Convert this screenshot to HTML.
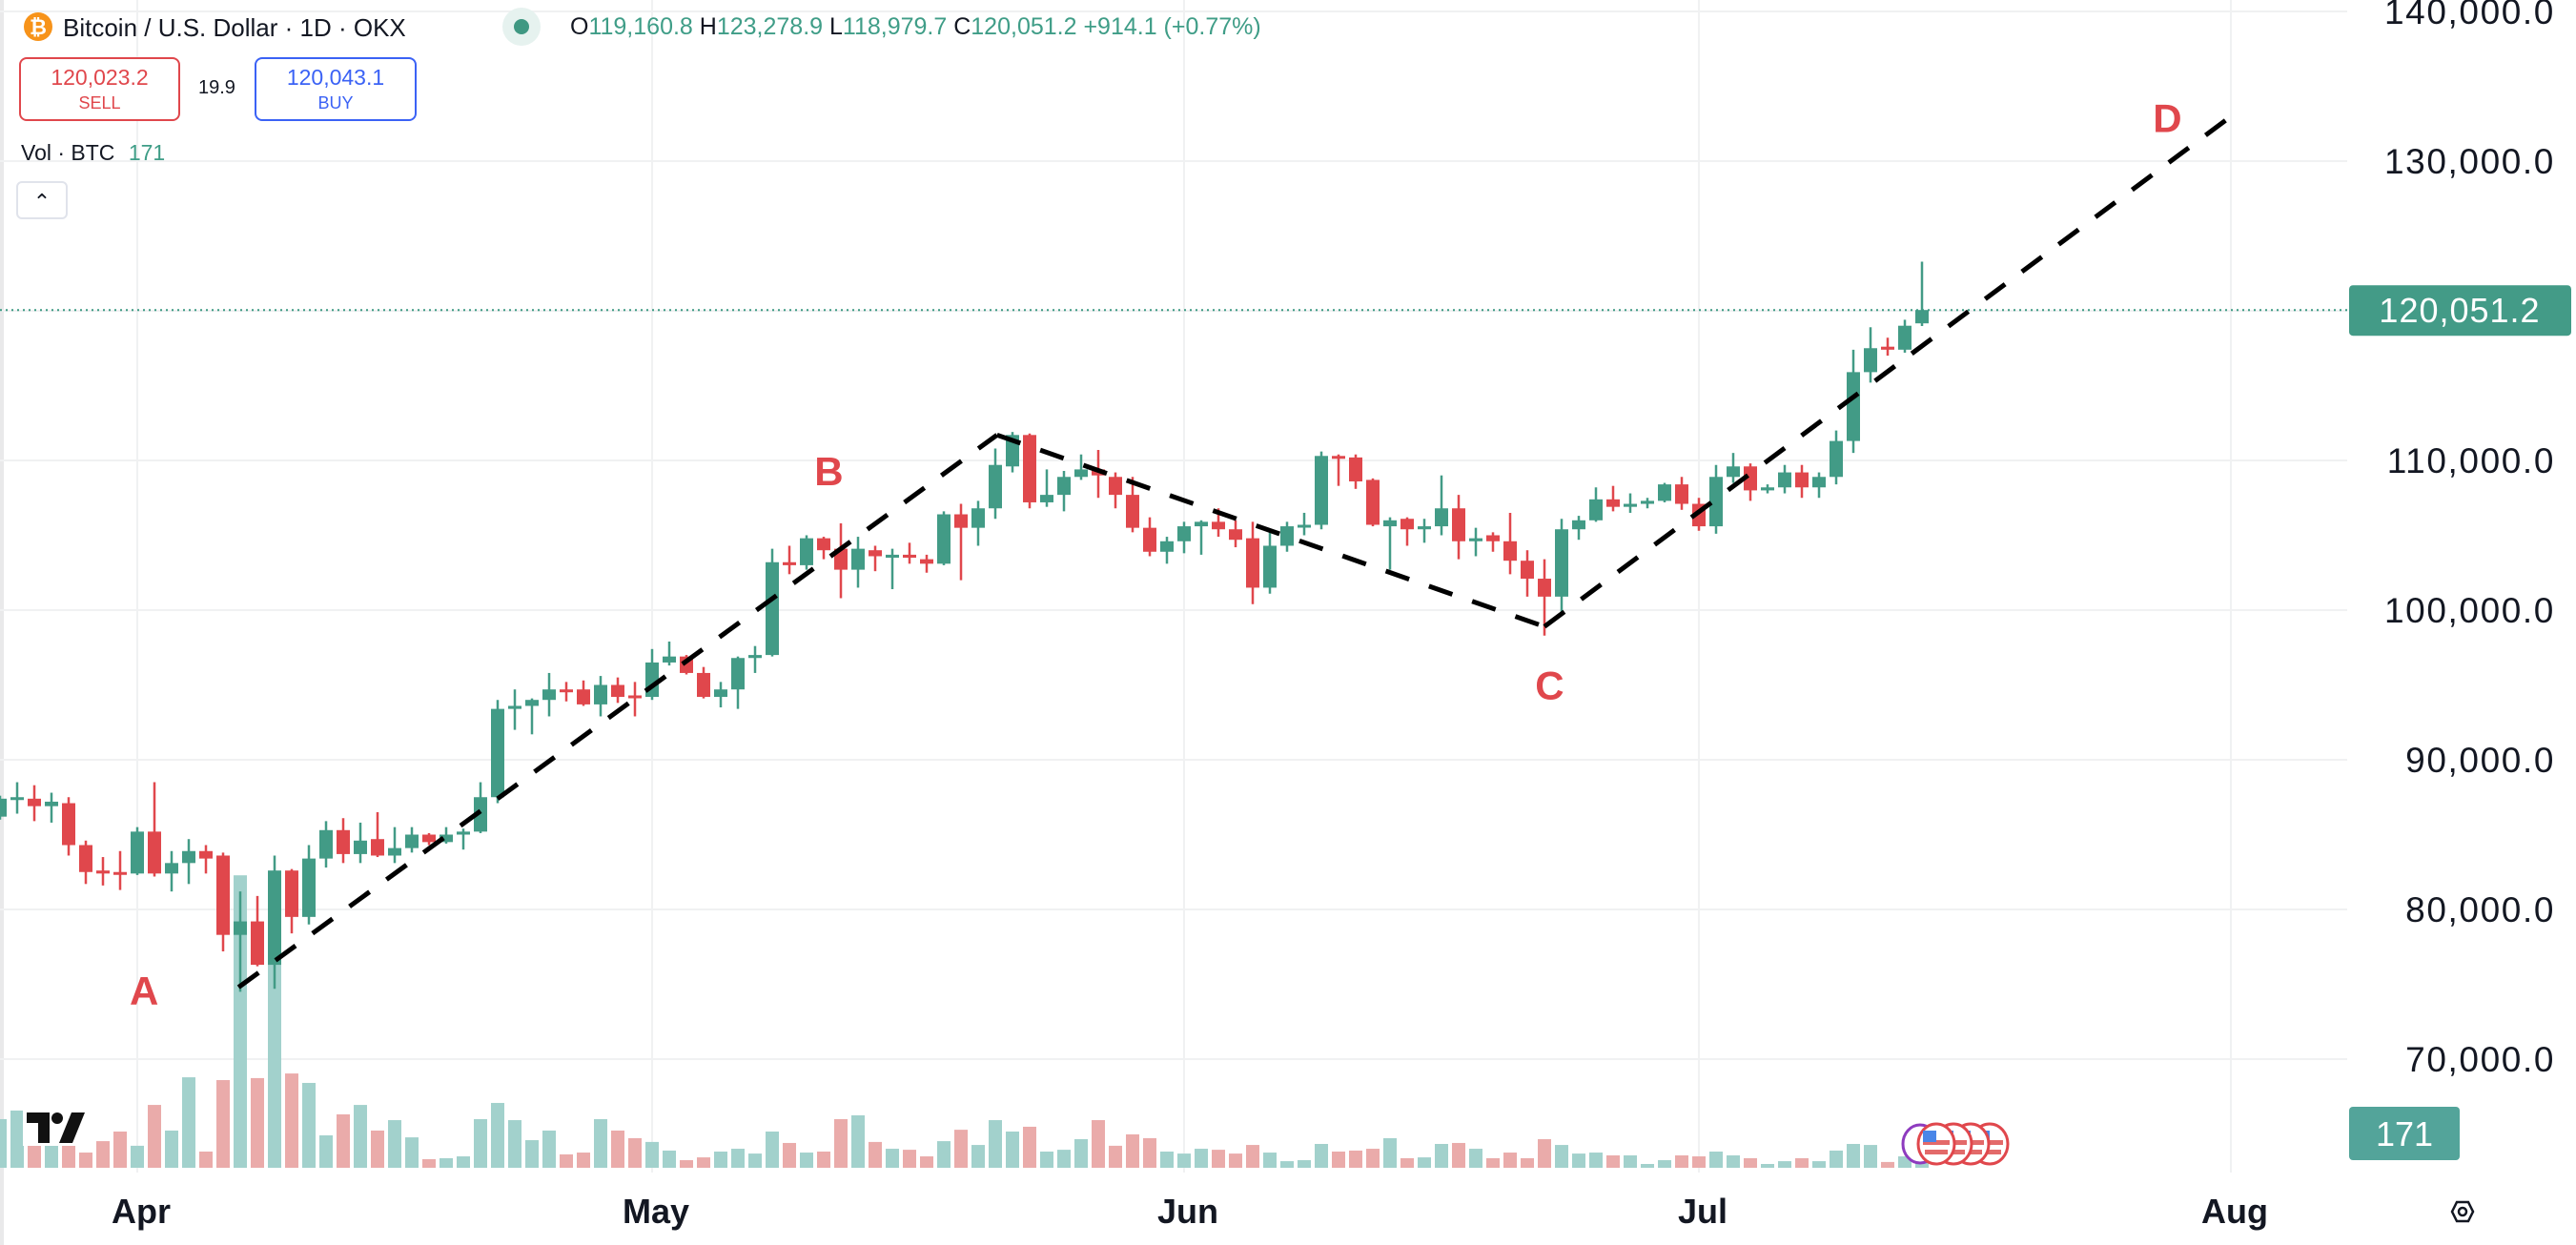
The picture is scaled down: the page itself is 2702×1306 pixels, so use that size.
<!DOCTYPE html>
<html><head><meta charset="utf-8">
<style>
html,body{margin:0;padding:0;background:#fff;}
body{width:2702px;height:1306px;position:relative;overflow:hidden;font-family:"Liberation Sans",sans-serif;}
#chart{position:absolute;left:0;top:0;}
.hdr{position:absolute;white-space:nowrap;color:#131722;}
.box{position:absolute;border:2px solid;border-radius:8px;text-align:center;box-sizing:border-box;background:#fff;}
</style></head>
<body>
<svg id="chart" width="2702" height="1306" xmlns="http://www.w3.org/2000/svg">
  <rect x="0" y="0" width="4" height="1306" fill="#e9e9ea"/>
  <g id="grid"></g>
  <g id="vol"></g>
  <g id="candles"></g>
  <g id="pattern"></g>
  <g id="axes"></g>
</svg>

<div class="hdr" style="left:24px;top:12px;height:34px;">
  <svg width="32" height="32" style="position:absolute;left:0;top:0"><circle cx="16" cy="16" r="15" fill="#f7931a"/><text x="16" y="24" font-size="22" font-weight="bold" fill="#fff" text-anchor="middle" font-family="DejaVu Sans, sans-serif">₿</text></svg>
  <span style="position:absolute;left:42px;top:2px;font-size:26px;">Bitcoin / U.S. Dollar · 1D · OKX</span>
</div>
<svg width="44" height="44" style="position:absolute;left:525px;top:6px"><circle cx="22" cy="22" r="20" fill="#e6f2ef"/><circle cx="22" cy="22" r="8" fill="#3f9882"/></svg>
<div class="hdr" style="left:598px;top:14px;font-size:25px;color:#3f9d87;">
  <span style="color:#131722">O</span>119,160.8 <span style="color:#131722">H</span>123,278.9 <span style="color:#131722">L</span>118,979.7 <span style="color:#131722">C</span>120,051.2 +914.1 (+0.77%)
</div>
<div class="box" style="left:20px;top:60px;width:169px;height:67px;border-color:#e0474c;">
  <div style="color:#e0474c;font-size:23px;margin-top:6px;">120,023.2</div>
  <div style="color:#e0474c;font-size:18px;margin-top:3px;">SELL</div>
</div>
<div class="hdr" style="left:208px;top:81px;font-size:20px;">19.9</div>
<div class="box" style="left:267px;top:60px;width:170px;height:67px;border-color:#3b62f5;">
  <div style="color:#3b62f5;font-size:23px;margin-top:6px;">120,043.1</div>
  <div style="color:#3b62f5;font-size:18px;margin-top:3px;">BUY</div>
</div>
<div class="hdr" style="left:22px;top:147px;font-size:23px;">Vol · BTC <span style="color:#3f9d87;margin-left:8px">171</span></div>
<div style="position:absolute;left:17px;top:190px;width:54px;height:40px;border:2px solid #e0e3eb;border-radius:6px;box-sizing:border-box;background:#fff;text-align:center;font-size:22px;line-height:40px;color:#131722;">&#8963;</div>

<script>
// ---- data ----
const dates = ["03-24","03-25","03-26","03-27","03-28","03-29","03-30","03-31",
"04-01","04-02","04-03","04-04","04-05","04-06","04-07","04-08","04-09","04-10","04-11","04-12","04-13","04-14","04-15","04-16","04-17","04-18","04-19","04-20","04-21","04-22","04-23","04-24","04-25","04-26","04-27","04-28","04-29","04-30",
"05-01","05-02","05-03","05-04","05-05","05-06","05-07","05-08","05-09","05-10","05-11","05-12","05-13","05-14","05-15","05-16","05-17","05-18","05-19","05-20","05-21","05-22","05-23","05-24","05-25","05-26","05-27","05-28","05-29","05-30","05-31",
"06-01","06-02","06-03","06-04","06-05","06-06","06-07","06-08","06-09","06-10","06-11","06-12","06-13","06-14","06-15","06-16","06-17","06-18","06-19","06-20","06-21","06-22","06-23","06-24","06-25","06-26","06-27","06-28","06-29","06-30",
"07-01","07-02","07-03","07-04","07-05","07-06","07-07","07-08","07-09","07-10","07-11","07-12","07-13","07-14"];
const openP = [86.2,87.4,87.4,86.9,87.1,84.3,82.6,82.5,
82.4,85.2,82.4,83.1,83.9,83.6,78.3,79.2,76.3,82.6,79.5,83.4,85.3,83.7,84.7,83.6,84.1,85.0,84.5,85.0,85.2,87.5,93.4,93.6,94.0,94.7,94.7,93.7,95.0,94.3,
94.2,96.5,96.9,95.8,94.2,94.7,96.8,97.0,103.2,103.0,104.8,104.1,102.7,104.0,103.5,103.7,103.4,103.1,106.4,105.5,106.8,109.6,111.7,107.2,107.7,108.9,109.4,108.9,107.7,105.5,103.9,
104.6,105.6,105.9,105.4,104.8,101.5,104.3,105.6,105.7,110.3,110.2,108.7,105.6,106.1,105.4,105.6,106.8,104.6,105.0,104.6,103.3,102.1,100.9,105.4,106.0,107.4,106.9,107.1,107.3,108.4,
107.1,105.6,108.9,109.6,108.0,108.2,109.2,108.2,108.9,111.3,115.9,117.6,117.4,119.16];
const highP = [87.6,88.5,88.3,87.8,87.5,84.6,83.5,83.9,
85.5,88.5,83.9,84.7,84.3,83.8,81.2,80.9,83.6,82.7,84.3,85.9,86.1,85.8,86.5,85.5,85.5,85.1,85.5,85.4,88.5,94.0,94.7,94.1,95.8,95.2,95.3,95.6,95.5,95.2,
97.4,97.9,97.0,96.2,95.2,96.9,97.6,104.1,104.3,105.0,104.9,105.8,104.9,104.3,104.1,104.5,103.7,106.6,107.1,107.3,110.8,111.9,111.8,109.4,109.3,110.4,110.7,109.2,108.9,106.2,104.9,
105.9,106.0,106.8,106.0,105.9,105.3,105.9,106.5,110.6,110.4,110.4,108.8,106.2,106.2,106.1,109.0,107.7,105.5,105.2,106.5,104.0,103.4,106.1,106.3,108.2,108.3,107.8,107.5,108.5,108.9,
107.5,109.7,110.5,109.8,108.4,109.7,109.7,109.2,112.0,117.4,118.9,118.2,119.4,123.28];
const lowP = [86.0,86.4,85.9,85.8,83.6,81.7,81.6,81.3,
82.3,82.2,81.2,81.7,82.4,77.2,74.5,76.2,74.7,78.4,79.0,82.8,83.1,83.1,83.5,83.1,83.8,84.3,84.4,84.0,85.1,87.1,92.0,91.7,92.9,93.9,93.6,92.9,93.8,92.9,
94.0,96.3,95.7,94.1,93.5,93.4,95.8,96.9,102.4,102.7,103.4,100.8,101.5,102.6,101.4,103.1,102.5,103.0,102.0,104.3,106.1,109.2,106.8,106.9,106.6,108.7,107.5,106.8,105.2,103.6,103.1,
103.8,103.7,104.9,104.2,100.4,101.1,103.9,105.0,105.4,108.3,108.1,105.6,102.7,104.3,104.5,105.0,103.4,103.6,103.9,102.4,100.9,98.3,99.7,104.7,105.9,106.6,106.5,106.8,107.2,106.7,
105.3,105.1,108.5,107.3,107.8,107.8,107.5,107.5,108.4,110.5,115.2,117.0,117.2,118.98];
const closeP = [87.4,87.5,86.9,87.2,84.3,82.5,82.4,82.4,
85.2,82.4,83.1,83.9,83.4,78.3,79.2,76.3,82.6,79.5,83.4,85.3,83.7,84.6,83.6,84.1,85.0,84.5,85.0,85.2,87.5,93.4,93.6,94.0,94.7,94.6,93.7,95.0,94.2,94.2,
96.5,96.9,95.8,94.2,94.7,96.8,97.0,103.2,103.0,104.8,104.0,102.7,104.1,103.6,103.7,103.5,103.1,106.4,105.5,106.8,109.7,111.7,107.2,107.7,108.9,109.4,109.0,107.7,105.5,103.9,104.6,
105.6,105.9,105.4,104.7,101.5,104.3,105.6,105.7,110.3,110.2,108.6,105.7,106.0,105.4,105.6,106.8,104.6,104.8,104.6,103.3,102.1,100.9,105.4,106.0,107.4,106.9,107.1,107.3,108.4,107.1,
105.6,108.9,109.6,108.0,108.2,109.2,108.2,108.9,111.3,115.9,117.5,117.4,119.0,120.05];
const volume = [243,286,195,110,110,76,133,181,
110,314,186,452,81,438,1461,448,1180,471,424,162,267,314,186,238,152,43,48,57,243,324,238,138,186,67,76,243,186,148,
129,86,38,52,81,95,71,181,124,76,81,243,262,129,95,90,57,133,190,114,238,181,205,81,90,143,238,110,167,148,81,
71,95,90,71,114,76,33,38,119,81,86,95,148,48,52,119,124,95,48,76,48,143,114,71,76,62,62,19,38,62,
57,81,62,48,19,33,48,33,86,119,114,29,57,171];
const priceTicks = [140,130,120,110,100,90,80,70];
const priceTickLabels = ["140,000.0","130,000.0","120,000.0","110,000.0","100,000.0","90,000.0","80,000.0","70,000.0"];
const monthLabels = ["Apr","May","Jun","Jul","Aug"];
const monthIdx = [8,38,69,99,130];
const patternIdx = [13.9,58.1,90,129.9];
const patternPrice = [74.8,111.7,98.9,132.9];
const patternLabels = ["A","B","C","D"];
const labelIdx = [8.4,48.3,90.3,126.3];
const labelPrice = [74.6,109.3,95.0,132.9];
const lastPrice = 120.0512;
const lastPriceLabel = "120,051.2";
const lastVolLabel = "171";

// ---- scales ----
const NS = "http://www.w3.org/2000/svg";
const PLOT_R = 2462;
function xS(i){ return i*18; }
function yS(p){ return 640 - (p-100)*15.7; }
function vS(v){ return v*0.21; }
const VOL_BASE = 1225;
const UP = "#429b86", DN = "#e0474c", UPV = "#a2d1cc", DNV = "#eaabaa";
function mk(tag, attrs, parent){ const e=document.createElementNS(NS,tag); for(const k in attrs) e.setAttribute(k,attrs[k]); parent.appendChild(e); return e; }

const grid = document.getElementById('grid');
priceTicks.forEach((p,k)=>{
  const l = mk('line',{x1:0,x2:PLOT_R,y1:yS(p),y2:yS(p),stroke:'#f0f1f2','stroke-width':2},grid);
  
  
});
monthIdx.forEach(i=>{
  const l = mk('line',{x1:xS(i),x2:xS(i),y1:0,y2:1230,stroke:'#f0f1f2','stroke-width':2},grid);
  
  
});

const volG = document.getElementById('vol');
volume.forEach((v,i)=>{
  const h = vS(v);
  const r = mk('rect',{x:xS(i)-7,y:VOL_BASE-h,width:14,height:h,fill: closeP[i]>=openP[i]?UPV:DNV},volG);
  
  
});

const cg = document.getElementById('candles');
openP.forEach((o,i)=>{
  const c = closeP[i], col = c>=o?UP:DN, x = xS(i);
  const g = mk('g',{},cg);
  
  
  mk('line',{x1:x,x2:x,y1:yS(highP[i]),y2:yS(lowP[i]),stroke:col,'stroke-width':2.5},g);
  const top = yS(Math.max(o,c)), bot = yS(Math.min(o,c));
  mk('rect',{x:x-7,y:top,width:14,height:Math.max(bot-top,3),fill:col},g);
});

const lp = mk('line',{x1:0,x2:PLOT_R,y1:yS(lastPrice),y2:yS(lastPrice),stroke:'#3d9a84','stroke-width':2,'stroke-dasharray':'2 4'},cg);



const pg = document.getElementById('pattern');
for(let k=0;k<patternIdx.length-1;k++){
  const l = mk('line',{x1:xS(patternIdx[k]),y1:yS(patternPrice[k]),x2:xS(patternIdx[k+1]),y2:yS(patternPrice[k+1]),stroke:'#000','stroke-width':5,'stroke-dasharray':'26 22'},pg);
  
  
}
patternLabels.forEach((t,k)=>{
  const tx = mk('text',{x:xS(labelIdx[k]),y:yS(labelPrice[k])+15,'font-size':42,'font-weight':'bold',fill:'#e0474c','text-anchor':'middle','font-family':'Liberation Sans, sans-serif'},pg);
  tx.textContent = t;
  
  
});

const ax = document.getElementById('axes');
priceTicks.forEach((p,k)=>{
  if(k===2) return;
  const t = mk('text',{x:2680,y:yS(p)+13,'font-size':37,fill:'#131722','text-anchor':'end','letter-spacing':'1.6','font-family':'Liberation Sans, sans-serif'},ax);
  t.textContent = priceTickLabels[k];
  
  
});
monthLabels.forEach((m,k)=>{
  const t = mk('text',{x:xS(monthIdx[k])+4,y:1283,'font-size':36,'font-weight':'bold',fill:'#131722','text-anchor':'middle','font-family':'Liberation Sans, sans-serif'},ax);
  t.textContent = m;
  
  
});
const lb = mk('g',{},ax);


mk('rect',{x:2464,y:yS(lastPrice)-26,width:233,height:53,rx:4,fill:'#439b87'},lb);
const lbt = mk('text',{x:2580,y:yS(lastPrice)+13,'font-size':36,fill:'#fff','text-anchor':'middle','letter-spacing':'1','font-family':'Liberation Sans, sans-serif'},lb);
lbt.textContent = lastPriceLabel;
const vb = mk('g',{},ax);


mk('rect',{x:2464,y:1161,width:116,height:56,rx:4,fill:'#53a49a'},vb);
const vbt = mk('text',{x:2522,y:1202,'font-size':36,fill:'#fff','text-anchor':'middle','font-family':'Liberation Sans, sans-serif'},vb);
vbt.textContent = lastVolLabel;
const st = mk('g',{},ax);


mk('polygon',{points:'2572,1271 2577,1261 2589,1261 2594,1271 2589,1281 2577,1281',fill:'none',stroke:'#131722','stroke-width':2.5},st);
mk('circle',{cx:2583,cy:1271,r:4,fill:'none',stroke:'#131722','stroke-width':2.5},st);
const tv = mk('g',{},ax);


mk('rect',{x:24,y:1164,width:72,height:38,fill:'#fff'},tv);
mk('path',{d:'M28 1167 H52 V1199 H40 V1178 H28 Z',fill:'#111'},tv);
mk('circle',{cx:60,cy:1173,r:6,fill:'#111'},tv);
mk('path',{d:'M75 1167 H89 L76 1199 H62 Z',fill:'#111'},tv);
const ev = mk('g',{},ax);


mk('ellipse',{cx:2014,cy:1200,rx:18,ry:20,fill:'#fff',stroke:'#8e3bbf','stroke-width':3},ev);
[2087,2067,2049,2031].forEach(cx=>{
  mk('ellipse',{cx:cx,cy:1200,rx:19,ry:21,fill:'#fff',stroke:'#e0474c','stroke-width':3},ev);
  mk('rect',{x:cx-14,y:1196,width:28,height:5,fill:'#e36a6a'},ev);
  mk('rect',{x:cx-12,y:1206,width:24,height:5,fill:'#e36a6a'},ev);
  mk('rect',{x:cx-14,y:1186,width:14,height:12,fill:'#4a86e8'},ev);
});
</script>
</body></html>
